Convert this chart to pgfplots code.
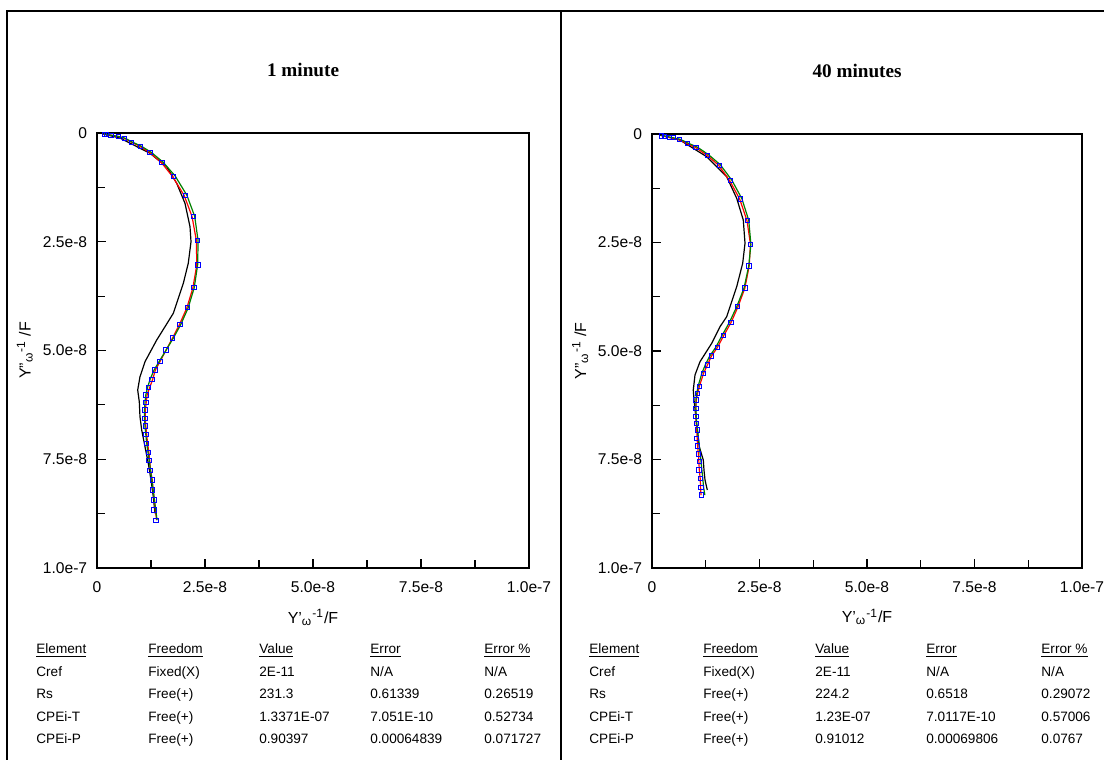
\documentclass[border=0pt]{standalone}
\usepackage{fontspec}
\setmainfont{Liberation Sans}
\newfontfamily\timesbf{Liberation Serif}
\usepackage{pgfplots}
\usepackage{pgfplotstable}
\pgfplotsset{compat=1.18}

% values in units of 1e-9 F
\pgfplotstableread{
x y
1.69 0.39
2.25 0.39
3.24 0.53
4.93 0.76
6.32 1.22
8.03 2.14
10.02 3.06
12.27 4.53
15.05 6.83
17.75 10.05
20.53 14.41
22.38 19.15
23.31 24.67
23.38 30.34
22.45 35.56
21.0 40.16
19.21 43.98
17.52 47.13
15.97 49.89
14.58 52.48
13.43 54.48
12.73 56.62
11.97 58.46
11.34 60.23
11.34 61.91
11.11 63.68
11.11 65.59
11.18 67.36
11.34 69.26
11.5 71.33
11.88 73.4
12.04 75.33
12.27 77.63
12.8 79.77
12.8 82.07
13.19 84.37
13.19 86.67
13.66 89.03
}\dataA

\pgfplotstableread{
x y
1.46 0.23
5.3 1.15
12.27 4.67
16.13 7.75
18.45 11.56
20.37 16.16
21.53 21.54
21.76 24.99
21.13 29.95
19.98 34.55
17.66 41.45
15.74 44.53
13.82 47.59
11.11 52.57
9.95 56.02
9.42 59.08
9.79 61.77
9.95 65.22
10.35 68.28
11.11 72.11
11.88 75.93
12.5 79.77
13.03 83.61
13.43 87.43
}\measA

\pgfplotstableread{
x y
1.5 0.3
3.2 0.5
4.9 0.8
6.3 1.2
8.0 2.1
10.0 3.1
12.2 4.5
14.9 6.8
17.5 10.0
20.2 14.4
22.0 19.2
23.0 24.7
23.1 30.3
22.2 35.6
20.8 40.2
19.1 44.0
17.5 47.1
16.0 49.9
14.6 52.5
13.5 54.5
12.9 56.6
12.2 58.5
11.6 60.2
11.4 61.9
11.2 63.7
11.2 65.6
11.3 67.4
11.5 69.3
11.7 71.3
12.0 73.4
12.2 75.3
12.4 77.6
12.8 79.8
13.0 82.1
13.3 84.4
13.5 86.7
13.8 89.0
}\redA

\pgfplotstableread{
x y
1.5 0.2
3.3 0.5
5.0 0.8
6.5 1.2
8.2 2.1
10.2 3.0
12.5 4.4
15.3 6.7
18.1 9.9
20.8 14.3
22.6 19.1
23.4 24.7
23.3 30.3
22.5 35.6
21.1 40.2
19.4 44.0
17.7 47.1
16.0 49.9
14.4 52.5
13.2 54.5
12.3 56.6
11.7 58.5
11.3 60.2
11.1 61.9
11.0 63.7
11.0 65.6
11.1 67.4
11.3 69.3
11.5 71.3
11.8 73.4
12.1 75.3
12.4 77.6
12.7 79.8
13.0 82.1
13.3 84.4
13.6 86.7
13.9 89.0
}\greenA

\pgfplotstableread{
x y
2.26 0.46
2.86 0.53
4.02 0.85
4.95 0.85
6.35 1.31
8.21 2.24
10.23 3.06
12.95 4.91
15.65 7.21
18.3 10.76
20.63 14.98
22.26 19.98
22.95 25.41
22.56 30.41
21.63 35.48
19.93 39.79
18.37 43.39
16.67 46.43
15.19 49.15
13.79 51.15
12.86 53.23
12.02 55.14
11.0 58.23
10.53 59.75
10.23 61.29
10.23 63.2
10.23 65.14
10.3 66.66
10.53 68.2
10.4 70.12
10.53 71.89
10.77 73.73
11.0 75.51
10.93 77.42
11.23 79.33
11.4 81.41
11.47 83.18
}\dataB

\pgfplotstableread{
x y
1.86 0.23
6.5 1.4
12.72 5.23
17.37 9.84
19.7 14.82
21.23 19.82
21.63 25.18
21.09 29.79
19.7 35.18
17.37 42.1
15.81 44.4
14.26 47.47
13.88 48.23
11.16 52.47
10.0 55.53
9.6 58.99
9.77 61.29
10.53 68.2
11.0 72.05
11.93 75.12
12.09 77.42
12.33 79.72
12.86 82.03
}\measB

\pgfplotstableread{
x y
2.2 0.4
4.0 0.8
6.3 1.3
8.1 2.2
10.1 3.1
12.8 4.9
15.5 7.2
18.1 10.8
20.4 15.0
22.1 20.0
22.9 25.4
22.6 30.4
21.6 35.5
20.0 39.8
18.4 43.4
16.7 46.4
15.2 49.2
13.8 51.2
12.9 53.2
12.0 55.1
11.0 58.2
10.6 59.8
10.3 61.3
10.2 63.2
10.2 65.1
10.3 66.7
10.4 68.2
10.5 70.1
10.6 71.9
10.8 73.7
10.9 75.5
11.0 77.4
11.2 79.3
11.3 81.4
11.4 83.2
}\redB

\pgfplotstableread{
x y
2.2 0.3
4.1 0.7
6.5 1.2
8.4 2.1
10.5 3.0
13.2 4.8
15.9 7.1
18.6 10.7
20.9 14.9
22.5 19.9
23.0 25.4
22.5 30.4
21.4 35.5
19.7 39.8
18.0 43.4
16.3 46.4
14.8 49.2
13.4 51.2
12.4 53.2
11.6 55.1
10.7 58.2
10.4 59.8
10.2 61.3
10.2 63.2
10.3 65.1
10.4 66.7
10.6 68.2
10.8 70.1
11.0 71.9
11.2 73.7
11.4 75.5
11.6 77.4
11.8 79.3
12.0 81.4
12.3 83.2
}\greenB

\definecolor{fitgreen}{RGB}{0,128,0}

\pgfplotsset{nyq/.style={
  scale only axis, anchor=north west,
  xmin=0, xmax=100, ymin=0, ymax=100, y dir=reverse,
  xtick={0,25,50,75,100}, xticklabels={0,2.5e-8,5.0e-8,7.5e-8,1.0e-7},
  ytick={0,25,50,75,100}, yticklabels={0,2.5e-8,5.0e-8,7.5e-8,1.0e-7},
  minor xtick={12.5,37.5,62.5,87.5}, minor ytick={12.5,37.5,62.5,87.5},
  xtick pos=bottom, ytick pos=left, tick align=inside,
  major tick length=4.5pt, minor tick length=4pt,
  every tick/.style={black, line width=0.6pt},
  axis line style={line width=1pt},
  tick label style={font=\fontsize{7.8}{9}\selectfont},
  xticklabel style={yshift=-3.5pt},
  yticklabel style={xshift=-1.4pt},
  label style={font=\fontsize{8}{9}\selectfont},
  xlabel style={at={(axis description cs:0.5,-0.113)}, anchor=center},
  ylabel style={at={(axis description cs:-0.167,0.5)}, anchor=center},
  title style={at={(axis description cs:0.477,1.117)}, anchor=center,
    font=\timesbf\bfseries\fontsize{9.6}{11}\selectfont},
  clip=false,
}}

\newcommand{\tbl}[2]{% #1 = x offset of first column (px)
  \begin{scope}[x=0.5pt, y=-0.5pt, font=\fontsize{6.8}{8}\selectfont]
}

\begin{document}
\begin{tikzpicture}
\useasboundingbox (0,0) rectangle (552pt,-380pt);
\clip (0,0) rectangle (552pt,-380pt);

% left panel: 1 minute
\begin{axis}[nyq, at={(48.5pt,-66.5pt)}, width=216pt, height=217.5pt,
  title={1 minute},
  xlabel={Y'\textsubscript{ω}\textsuperscript{-1}/F},
  ylabel={Y''\textsubscript{ω}\textsuperscript{-1} /F}]
\addplot[black, line width=0.6pt] table {\measA};
\addplot[red, line width=0.6pt] table {\redA};
\addplot[fitgreen, line width=0.6pt] table {\greenA};
\addplot[only marks, mark=square, blue, mark size=1.1pt, mark options={line width=0.5pt}] table {\dataA};
\end{axis}

% right panel: 40 minutes
\begin{axis}[nyq, at={(326pt,-67pt)}, width=215pt, height=217pt,
  title={40 minutes},
  xlabel={Y'\textsubscript{ω}\textsuperscript{-1}/F},
  ylabel={Y''\textsubscript{ω}\textsuperscript{-1} /F}]
\addplot[black, line width=0.6pt] table {\measB};
\addplot[red, line width=0.6pt] table {\redB};
\addplot[fitgreen, line width=0.6pt] table {\greenB};
\addplot[only marks, mark=square, blue, mark size=1.1pt, mark options={line width=0.5pt}] table {\dataB};
\end{axis}

\begin{scope}[x=0.5pt, y=-0.5pt, font=\fontsize{6.8}{8}\selectfont, every node/.style={anchor=base west, inner sep=0pt}]
% frame
\draw[line width=1pt] (7,11) rectangle (1120,780);
\draw[line width=1pt] (561,11) -- (561,780);
% left table
\node at (36,653) {\underline{Element}};
\node at (148,653) {\underline{Freedom}};
\node at (259,653) {\underline{Value}};
\node at (370,653) {\underline{Error}};
\node at (484,653) {\underline{Error \%}};
\node at (36,676) {Cref};   \node at (148,676) {Fixed(X)}; \node at (259,676) {2E-11};      \node at (370,676) {N/A};        \node at (484,676) {N/A};
\node at (36,698) {Rs};     \node at (148,698) {Free(+)};  \node at (259,698) {231.3};      \node at (370,698) {0.61339};    \node at (484,698) {0.26519};
\node at (36,721) {CPEi-T}; \node at (148,721) {Free(+)};  \node at (259,721) {1.3371E-07}; \node at (370,721) {7.051E-10};  \node at (484,721) {0.52734};
\node at (36,743) {CPEi-P}; \node at (148,743) {Free(+)};  \node at (259,743) {0.90397};    \node at (370,743) {0.00064839}; \node at (484,743) {0.071727};
% right table
\node at (589,653) {\underline{Element}};
\node at (703,653) {\underline{Freedom}};
\node at (815,653) {\underline{Value}};
\node at (926,653) {\underline{Error}};
\node at (1041,653) {\underline{Error \%}};
\node at (589,676) {Cref};   \node at (703,676) {Fixed(X)}; \node at (815,676) {2E-11};     \node at (926,676) {N/A};        \node at (1041,676) {N/A};
\node at (589,698) {Rs};     \node at (703,698) {Free(+)};  \node at (815,698) {224.2};     \node at (926,698) {0.6518};     \node at (1041,698) {0.29072};
\node at (589,721) {CPEi-T}; \node at (703,721) {Free(+)};  \node at (815,721) {1.23E-07};  \node at (926,721) {7.0117E-10}; \node at (1041,721) {0.57006};
\node at (589,743) {CPEi-P}; \node at (703,743) {Free(+)};  \node at (815,743) {0.91012};   \node at (926,743) {0.00069806}; \node at (1041,743) {0.0767};
\end{scope}
\end{tikzpicture}
\end{document}
